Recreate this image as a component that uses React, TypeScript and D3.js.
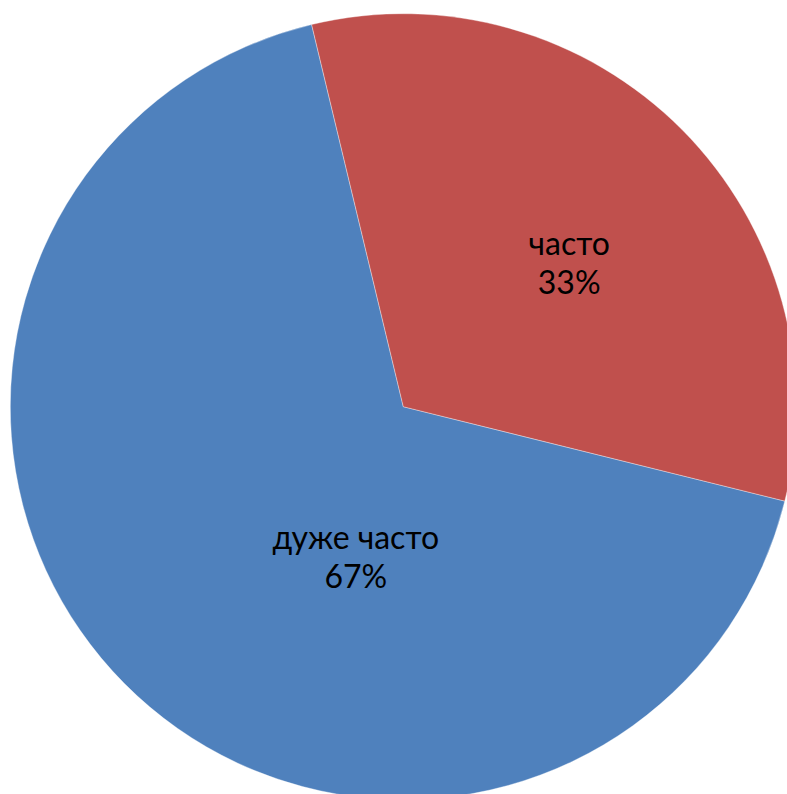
import React from "react";
import * as d3 from "d3";

const categories = ["дуже часто", "часто"];
const values = [31, 15];
const colors = ["#4F81BD", "#C0504D"];
// label placement: fraction along the slice angle, fraction of radius
const labelAlong = [0.381, 0.554];
const labelRadius = [0.43, 0.539];

const W = 787;
const H = 794;
const cx = 403.3;
const cy = 406.7;
const R = 393;
const startDeg = 103.9;

export default function App() {
  const total = d3.sum(values);
  const pie = d3
    .pie<number>()
    .sort(null)
    .value((d) => d)
    .startAngle((startDeg * Math.PI) / 180)
    .endAngle((startDeg * Math.PI) / 180 + 2 * Math.PI);
  const arcs = pie(values);
  const arc = d3.arc<d3.PieArcDatum<number>>().innerRadius(0).outerRadius(R);
  const fmt = d3.format(".0%");

  return (
    <svg
      width={W}
      height={H}
      style={{ position: "absolute", left: 0, top: 0 }}
      fontFamily="Lato, 'Open Sans', sans-serif"
    >
      <rect width={W} height={H} fill="#fff" />
      <g transform={`translate(${cx},${cy})`}>
        {arcs.map((a, i) => (
          <path key={i} d={arc(a) || ""} fill={colors[i]} stroke="#fff" strokeOpacity={0.6} strokeWidth={0.6} />
        ))}
        {arcs.map((a, i) => {
          const ang = a.startAngle + (a.endAngle - a.startAngle) * labelAlong[i];
          const rr = R * labelRadius[i];
          const x = Math.sin(ang) * rr;
          const y = -Math.cos(ang) * rr;
          return (
            <text key={i} x={x} y={y} textAnchor="middle" fontSize={32} fill="#000">
              <tspan x={x} y={y - 20}>{categories[i]}</tspan>
              <tspan x={x} y={y + 19}>{fmt(values[i] / total)}</tspan>
            </text>
          );
        })}
      </g>
    </svg>
  );
}
